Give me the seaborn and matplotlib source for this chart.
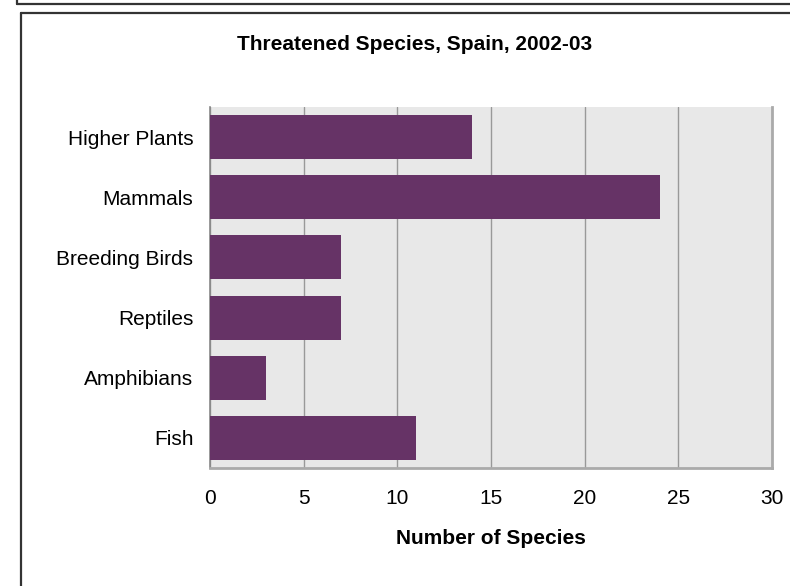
import matplotlib
matplotlib.use("Agg")
import matplotlib.pyplot as plt
from matplotlib.lines import Line2D
import pandas as pd
import seaborn as sns

# data
categories = ['Higher Plants', 'Mammals', 'Breeding Birds', 'Reptiles', 'Amphibians', 'Fish']
species = [14, 24, 7, 7, 3, 11]
xticks = [0, 5, 10, 15, 20, 25, 30]

df = pd.DataFrame({'Group': categories, 'Number': species})

sns.set_style("white")
plt.rcParams['font.family'] = ['Liberation Sans', 'DejaVu Sans']
plt.rcParams['text.color'] = 'black'
plt.rcParams['xtick.color'] = 'black'
plt.rcParams['ytick.color'] = 'black'
plt.rcParams['axes.labelcolor'] = 'black'

W, H = 790, 586
fig = plt.figure(figsize=(W / 100, H / 100), dpi=100)
ax = fig.add_axes([210 / W, 1 - 468 / H, (772 - 210) / W, (468 - 107) / H])
ax.set_facecolor('#e8e8e8')

sns.barplot(data=df, x='Number', y='Group', color='#663366', width=0.73,
            saturation=1, linewidth=0, ax=ax, zorder=3)

ax.set_xlim(0, 30)
ax.set_ylim(len(categories) - 0.5, -0.5)
ax.set_xticks(xticks)
ax.xaxis.grid(True, color='#999999', linewidth=1, zorder=0)
ax.yaxis.grid(False)
ax.set_axisbelow(True)
ax.tick_params(axis='both', length=0, labelsize=15)
ax.tick_params(axis='x', pad=15)
ax.tick_params(axis='y', pad=12)
ax.set_ylabel('')
ax.set_xlabel('Number of Species', fontsize=15, fontweight='bold', labelpad=15)

ax.spines['top'].set_visible(False)
ax.spines['left'].set_color('#888888')
ax.spines['left'].set_linewidth(1.2)
ax.spines['bottom'].set_color('#aaaaaa')
ax.spines['bottom'].set_linewidth(2)
ax.spines['right'].set_color('#aaaaaa')
ax.spines['right'].set_linewidth(2)

fig.text(415 / W, 1 - 50 / H, 'Threatened Species, Spain, 2002-03',
         fontsize=15, fontweight='bold', ha='center', va='baseline')

# frame lines of the surrounding boxes
frame = '#333333'
fig.add_artist(Line2D([17 / W, 1], [1 - 4 / H, 1 - 4 / H], color=frame, lw=1.6))
fig.add_artist(Line2D([17 / W, 17 / W], [1 - 4 / H, 1], color=frame, lw=1.6))
fig.add_artist(Line2D([21 / W, 1], [1 - 12.5 / H, 1 - 12.5 / H], color=frame, lw=1.6))
fig.add_artist(Line2D([21 / W, 21 / W], [1 - 12.5 / H, 0], color=frame, lw=1.6))

fig.savefig('out.png', dpi=100)
